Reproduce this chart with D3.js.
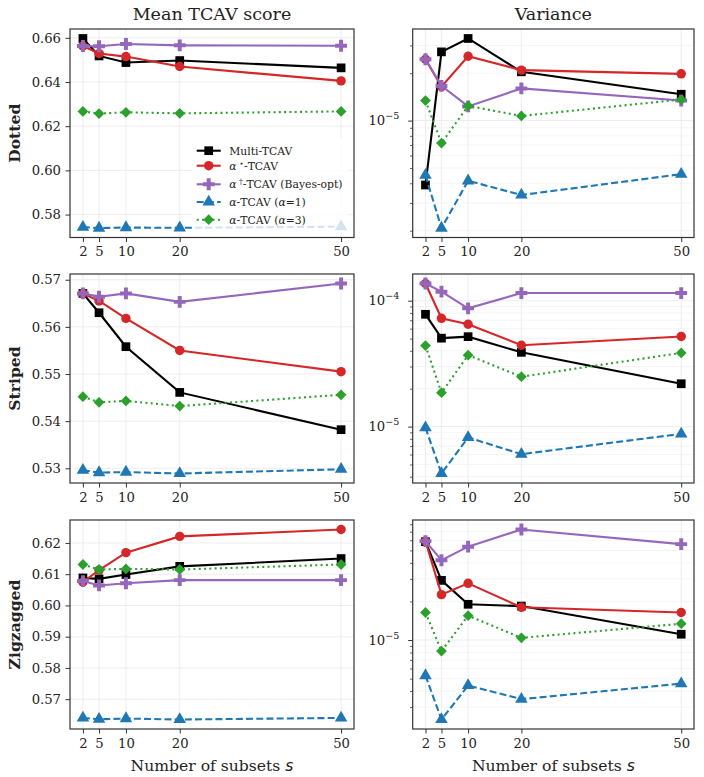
<!DOCTYPE html>
<html>
<head>
<meta charset="utf-8">
<script src="https://cdn.jsdelivr.net/npm/d3@7"></script>
<style>
  body { margin: 0; background: #fff; }
  text { font-family: "DejaVu Serif", serif; fill: #222; }
</style>
</head>
<body>
<div id="vis-container"></div>
<script>
// x values (number of subsets) and the tick labels on x
const subsets = [2, 5, 10, 20, 50];
const xTicks = [2, 5, 10, 20, 50];

// series order: Multi-TCAV, alpha*-TCAV, alpha†-TCAV, alpha=1, alpha=3
const methods = ["Multi-TCAV", "α*-TCAV", "α†-TCAV (Bayes-opt)", "α-TCAV (α=1)", "α-TCAV (α=3)"];
const rowNames = ["Dotted", "Striped", "Zigzagged"];
const colTitles = ["Mean TCAV score", "Variance"];

// y tick labels of the mean panels
const dottedTicks = [0.58, 0.60, 0.62, 0.64, 0.66];
const stripedTicks = [0.53, 0.54, 0.55, 0.56, 0.57];
const zigzagTicks = [0.57, 0.58, 0.59, 0.60, 0.61, 0.62];

const dottedMean = [
  [0.6597, 0.6518, 0.6488, 0.6497, 0.6464],
  [0.6563, 0.6529, 0.6515, 0.6470, 0.6405],
  [0.6563, 0.6562, 0.6572, 0.6566, 0.6564],
  [0.5743, 0.5739, 0.5741, 0.5740, 0.5745],
  [0.6267, 0.6257, 0.6263, 0.6258, 0.6267]
];
const dottedVar = [
  [3.9e-6, 2.73e-5, 3.32e-5, 2.04e-5, 1.47e-5],
  [2.45e-5, 1.64e-5, 2.56e-5, 2.09e-5, 1.98e-5],
  [2.45e-5, 1.66e-5, 1.23e-5, 1.60e-5, 1.34e-5],
  [4.5e-6, 2.08e-6, 4.15e-6, 3.37e-6, 4.57e-6],
  [1.34e-5, 7.2e-6, 1.24e-5, 1.07e-5, 1.36e-5]
];
const stripedMean = [
  [0.5671, 0.5630, 0.5558, 0.5461, 0.5382],
  [0.5671, 0.5655, 0.5618, 0.5550, 0.5505],
  [0.5671, 0.5664, 0.5671, 0.5653, 0.5692],
  [0.5296, 0.5291, 0.5292, 0.5289, 0.5298],
  [0.5452, 0.5440, 0.5443, 0.5432, 0.5456]
];
const stripedVar = [
  [7.8e-5, 5.04e-5, 5.18e-5, 3.89e-5, 2.19e-5],
  [1.37e-4, 7.25e-5, 6.5e-5, 4.43e-5, 5.2e-5],
  [1.37e-4, 1.18e-4, 8.7e-5, 1.15e-4, 1.15e-4],
  [9.8e-6, 4.24e-6, 8.2e-6, 6.04e-6, 8.75e-6],
  [4.4e-5, 1.86e-5, 3.69e-5, 2.49e-5, 3.85e-5]
];
const zigzagMean = [
  [0.6088, 0.6085, 0.6099, 0.6125, 0.6150],
  [0.6075, 0.6113, 0.6169, 0.6221, 0.6243],
  [0.6078, 0.6064, 0.6071, 0.6081, 0.6081],
  [0.5640, 0.5636, 0.5638, 0.5635, 0.5640],
  [0.6131, 0.6115, 0.6117, 0.6115, 0.6131]
];
const zigzagVar = [
  [5.85e-5, 2.92e-5, 1.9e-5, 1.84e-5, 1.11e-5],
  [5.91e-5, 2.26e-5, 2.77e-5, 1.80e-5, 1.64e-5],
  [5.91e-5, 4.19e-5, 5.35e-5, 7.28e-5, 5.6e-5],
  [5.28e-6, 2.40e-6, 4.42e-6, 3.46e-6, 4.57e-6],
  [1.64e-5, 8.2e-6, 1.55e-5, 1.04e-5, 1.34e-5]
];

// styles for each method
const colors = ["#000000", "#d62728", "#9467bd", "#1f77b4", "#2ca02c"];
const dashes = [null, null, null, "7,3.2", "2,3.3"];
const symbols = [d3.symbolSquare, d3.symbolCircle, d3.symbolCross, d3.symbolTriangle, d3.symbolSquare];
const symSize = [76, 70, 78, 68, 58];
const symRot = [0, 0, 0, 0, 45];

const panels = [
  [{ vals: dottedMean, ticks: dottedTicks }, { vals: dottedVar, log: true }],
  [{ vals: stripedMean, ticks: stripedTicks }, { vals: stripedVar, log: true }],
  [{ vals: zigzagMean, ticks: zigzagTicks }, { vals: zigzagVar, log: true }]
];

const W = 704, H = 777;
const colX = [[70, 354], [412.7, 694]];
const rowY = [[29, 237.5], [274, 483], [520, 729]];

const svg = d3.select("#vis-container").append("svg")
  .attr("width", W).attr("height", H);

function padDomain(lo, hi) {
  let p = (hi - lo) * 0.05;
  return [lo - p, hi + p];
}

function drawPanel(r, c) {
  let p = panels[r][c];
  let [x0, x1] = colX[c];
  let [y0, y1] = rowY[r];
  let all = p.vals.flat();
  let x = d3.scaleLinear().domain(padDomain(2, 50)).range([x0, x1]);
  let y, majors, minors = [];
  if (p.log) {
    let d = padDomain(Math.log10(d3.min(all)), Math.log10(d3.max(all)));
    y = d3.scaleLog().domain([Math.pow(10, d[0]), Math.pow(10, d[1])]).range([y1, y0]);
    let tv = y.ticks();
    majors = tv.filter(v => Math.abs(Math.log10(v) - Math.round(Math.log10(v))) < 1e-6);
    minors = tv.filter(v => !majors.includes(v));
  } else {
    y = d3.scaleLinear().domain(padDomain(d3.min(all), d3.max(all))).range([y1, y0]);
    majors = p.ticks;
  }

  let g = svg.append("g");

  // grid
  let grid = g.append("g");
  grid.selectAll(".gx").data(xTicks).join("line")
    .attr("x1", d => x(d)).attr("x2", d => x(d))
    .attr("y1", y0).attr("y2", y1)
    .attr("stroke", "#e8e8e8").attr("stroke-width", 0.8);
  grid.selectAll(".gm").data(minors).join("line")
    .attr("x1", x0).attr("x2", x1)
    .attr("y1", d => y(d)).attr("y2", d => y(d))
    .attr("stroke", "#f0f0f0").attr("stroke-width", 0.7);
  grid.selectAll(".gy").data(majors).join("line")
    .attr("x1", x0).attr("x2", x1)
    .attr("y1", d => y(d)).attr("y2", d => y(d))
    .attr("stroke", "#e8e8e8").attr("stroke-width", 0.8);

  // series
  p.vals.forEach((vals, i) => {
    let pts = vals.map((v, j) => [subsets[j], v]);
    g.append("path")
      .datum(pts)
      .attr("fill", "none")
      .attr("stroke", colors[i])
      .attr("stroke-width", 2.1)
      .attr("stroke-dasharray", dashes[i])
      .attr("d", d3.line().x(d => x(d[0])).y(d => y(d[1])));
    g.selectAll(null).data(pts).join("path")
      .attr("transform", d => `translate(${x(d[0])},${y(d[1])}) rotate(${symRot[i]})`)
      .attr("d", d3.symbol().type(symbols[i]).size(symSize[i]))
      .attr("fill", colors[i]);
  });

  // frame
  g.append("rect")
    .attr("x", x0).attr("y", y0)
    .attr("width", x1 - x0).attr("height", y1 - y0)
    .attr("fill", "none").attr("stroke", "#333").attr("stroke-width", 1.2);

  // x axis
  let xa = g.append("g")
    .attr("transform", `translate(0,${y1})`)
    .call(d3.axisBottom(x).tickValues(xTicks).tickSize(4.5).tickPadding(5));
  // y axis
  let ya = g.append("g")
    .attr("transform", `translate(${x0},0)`)
    .call(d3.axisLeft(y).tickValues(majors).tickSize(4.5).tickPadding(p.log ? 9 : 4.5)
      .tickFormat(p.log ? () => "" : d3.format(".2f")));
  if (p.log) {
    ya.selectAll(".tick text").each(function (d) {
      let t = d3.select(this);
      t.append("tspan").text("10");
      t.append("tspan").attr("dy", -6).attr("font-size", 9.5)
        .text("\u2212" + (-Math.round(Math.log10(d))));
    });
    g.append("g")
      .attr("transform", `translate(${x0},0)`)
      .call(d3.axisLeft(y).tickValues(minors).tickSize(2.6).tickFormat(() => ""))
      .call(a => a.select(".domain").remove())
      .selectAll("line").attr("stroke", "#333").attr("stroke-width", 0.8);
  }
  [xa, ya].forEach(a => {
    a.select(".domain").remove();
    a.selectAll(".tick line").attr("stroke", "#333").attr("stroke-width", 1);
    a.selectAll(".tick text").attr("font-size", 13.2)
      .attr("font-family", "DejaVu Serif").attr("fill", "#222");
  });
  return { x, y };
}

for (let r = 0; r < 3; r++) {
  for (let c = 0; c < 2; c++) drawPanel(r, c);
}

// column titles
colTitles.forEach((t, c) => {
  svg.append("text")
    .attr("x", (colX[c][0] + colX[c][1]) / 2).attr("y", 19.5)
    .attr("text-anchor", "middle").attr("font-size", 17.5)
    .text(t);
});

// row labels
rowNames.forEach((t, r) => {
  let cy = (rowY[r][0] + rowY[r][1]) / 2;
  svg.append("text")
    .attr("transform", `translate(20,${cy}) rotate(-90)`)
    .attr("text-anchor", "middle").attr("font-size", 15.6)
    .attr("font-weight", "bold")
    .text(t);
});

// x labels
colX.forEach(([a, b]) => {
  let t = svg.append("text")
    .attr("x", (a + b) / 2).attr("y", 771)
    .attr("text-anchor", "middle").attr("font-size", 15.6);
  t.append("tspan").text("Number of subsets ");
  t.append("tspan").attr("font-style", "italic").attr("font-family", "DejaVu Sans").text("s");
});

// legend
const legendRows = [0, 15, 33.6, 51.3, 69];
let lg = svg.append("g").attr("transform", "translate(192,150.7)");
lg.append("rect")
  .attr("x", 0).attr("y", -12.5)
  .attr("width", 157).attr("height", 94)
  .attr("fill", "#fff").attr("fill-opacity", 0.8)
  .attr("rx", 2);
methods.forEach((m, i) => {
  let row = lg.append("g").attr("transform", `translate(0,${legendRows[i]})`);
  row.append("line")
    .attr("x1", 4.7).attr("x2", 28.7).attr("y1", 0).attr("y2", 0)
    .attr("stroke", colors[i]).attr("stroke-width", 2.1)
    .attr("stroke-dasharray", dashes[i]);
  row.append("path")
    .attr("transform", `translate(16.7,0) rotate(${symRot[i]})`)
    .attr("d", d3.symbol().type(symbols[i]).size(symSize[i]))
    .attr("fill", colors[i]);
  let t = row.append("text").attr("x", 37.3).attr("y", 3.8).attr("font-size", 10.8);
  let alpha = () => t.append("tspan").attr("font-style", "italic").text("α");
  if (i === 0) {
    t.append("tspan").text("Multi-TCAV");
  } else if (i === 1 || i === 2) {
    alpha();
    t.append("tspan").attr("dy", -4).attr("font-size", 7.5).text(i === 1 ? " \u22c6" : " \u2020");
    t.append("tspan").attr("dy", 4).text(i === 1 ? "-TCAV" : "-TCAV (Bayes-opt)");
  } else {
    alpha();
    t.append("tspan").text("-TCAV (");
    alpha();
    t.append("tspan").text(i === 3 ? "=1)" : "=3)");
  }
});
</script>
</body>
</html>
